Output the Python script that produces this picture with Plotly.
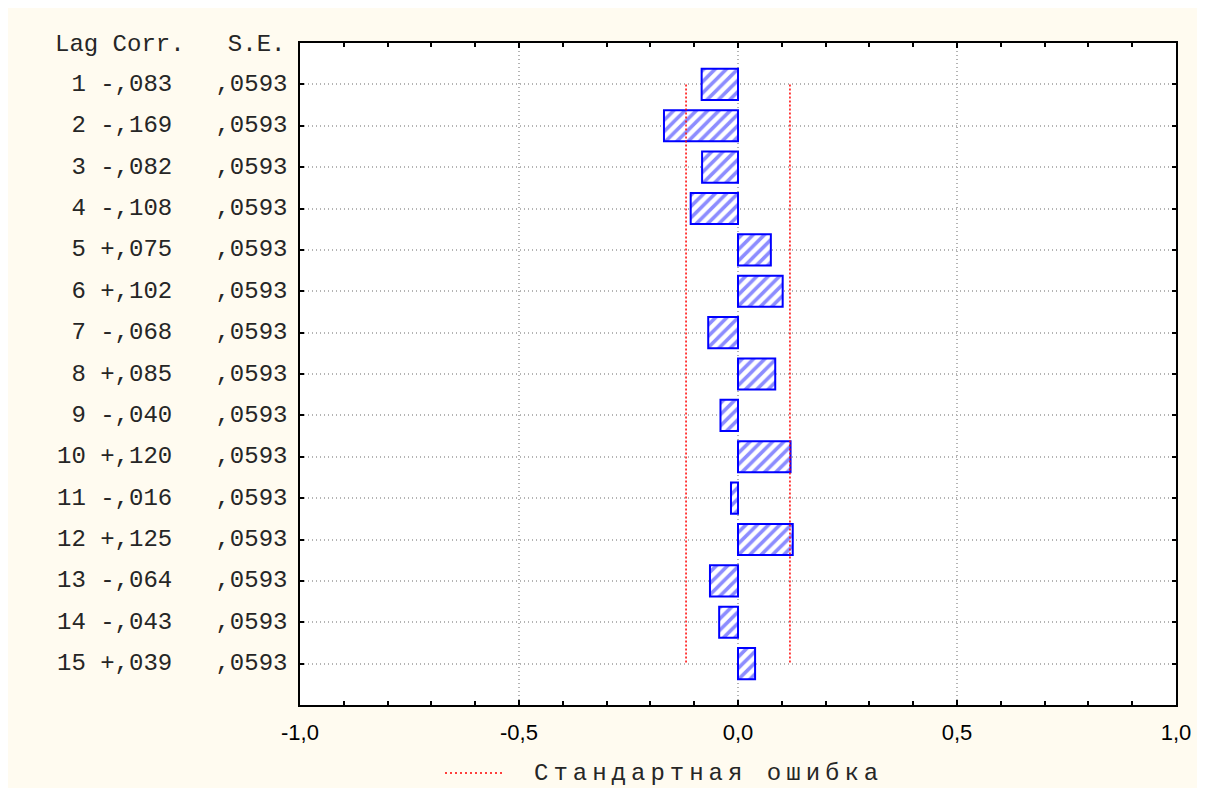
import plotly.graph_objects as go

lags = list(range(1, 16))
corr_labels = ["-,083", "-,169", "-,082", "-,108", "+,075", "+,102", "-,068", "+,085",
               "-,040", "+,120", "-,016", "+,125", "-,064", "-,043", "+,039"]
corr = [-0.083, -0.169, -0.082, -0.108, 0.075, 0.102, -0.068, 0.085,
        -0.040, 0.120, -0.016, 0.125, -0.064, -0.043, 0.039]
se = [0.0593] * 15
se_labels = [",0593"] * 15
x_ticks = [-1.0, -0.5, 0.0, 0.5, 1.0]
x_tick_text = ["-1,0", "-0,5", "0,0", "0,5", "1,0"]
legend_text = "Стандартная ошибка"
header_text = "Lag Corr.   S.E."

# the page body has an 8px margin, so the figure starts at (8, 8);
# keep the figure small enough that the page does not scroll
OFF = 8
W, H = 1205 - OFF, 796 - 2 * OFF
L, R, T = 300 - OFF, 1205 - 1176, 43 - OFF
B = H - (705 - OFF)
PW, PH = W - L - R, H - T - B

def px_x(p):  # reference page pixel -> paper
    return (p - OFF - L) / PW

def px_y(p):
    return (H - B - (p - OFF)) / PH

fig = go.Figure()

fig.add_trace(go.Bar(
    x=corr, y=lags, orientation="h", width=0.75,
    marker=dict(color="white",
                line=dict(color="#0000ff", width=2),
                pattern=dict(shape="/", fgcolor="#1a1aff", bgcolor="white",
                             size=8, solidity=0.45)),
    showlegend=False, hoverinfo="skip"))

for sign in (-1, 1):
    fig.add_trace(go.Scatter(
        x=[sign * 2 * s for s in se], y=lags, mode="lines",
        line=dict(color="#ff0000", width=1.5, dash="2px,2px"),
        showlegend=False, hoverinfo="skip"))

mono = "Liberation Mono, Courier New, monospace"
NB = "\u00a0"
for lag, c, s in zip(lags, corr_labels, se_labels):
    txt = f"{lag:>2} {c}   {s}".replace(" ", NB)
    fig.add_annotation(x=px_x(55), y=lag, xref="paper", yref="y", text=txt,
                       showarrow=False, xanchor="left", yanchor="middle",
                       font=dict(family=mono, size=24, color="#262626"))

fig.add_annotation(x=px_x(53), y=px_y(45), xref="paper", yref="paper",
                   text=header_text.replace(" ", NB), showarrow=False,
                   xanchor="left", yanchor="middle",
                   font=dict(family=mono, size=24, color="#262626"))

# legend drawn manually
fig.add_shape(type="line", xref="paper", yref="paper",
              x0=px_x(445), x1=px_x(503), y0=px_y(773), y1=px_y(773),
              line=dict(color="#ff0000", width=1.5, dash="2px,3px"))
fig.add_annotation(x=px_x(532), y=px_y(773), xref="paper", yref="paper",
                   text=f'<span style="letter-spacing:5px">{legend_text}</span>',
                   showarrow=False, xanchor="left", yanchor="middle",
                   font=dict(family=mono, size=24, color="#262626"))

fig.update_xaxes(range=[-1, 1], tickvals=x_ticks, ticktext=x_tick_text,
                 ticks="inside", ticklen=5, tickwidth=1.5, tickcolor="black",
                 minor=dict(ticks="inside", dtick=0.1, ticklen=4, tickwidth=1.5,
                            tickcolor="black", showgrid=False),
                 showline=True, linecolor="black", linewidth=2, mirror="ticks",
                 showgrid=True, gridcolor="#b4b4b4", griddash="1px,3px", gridwidth=1.5,
                 zeroline=False, ticklabelstandoff=7,
                 tickfont=dict(family="Liberation Sans, Arial", size=22, color="black"))
fig.update_yaxes(range=[16, 0], tickvals=lags, showticklabels=False,
                 ticks="inside", ticklen=4, tickwidth=1.5, tickcolor="black",
                 showline=True, linecolor="black", linewidth=2, mirror="ticks",
                 showgrid=True, gridcolor="#b4b4b4", griddash="1px,3px", gridwidth=1.5,
                 zeroline=False)

fig.update_layout(width=W, height=H, margin=dict(l=L, r=R, t=T, b=B),
                  paper_bgcolor="#fffbf0", plot_bgcolor="white",
                  bargap=0.25, showlegend=False, autosize=False)

fig.write_html("out.html", config={"responsive": False})
